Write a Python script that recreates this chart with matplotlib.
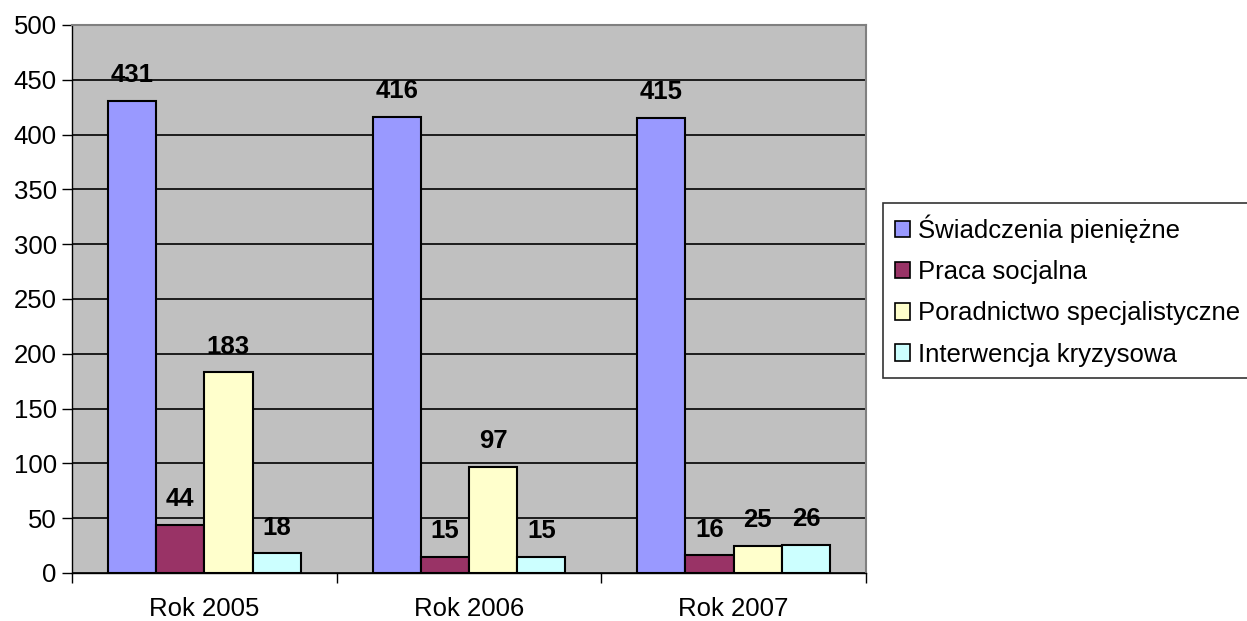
import matplotlib.pyplot as plt
import numpy as np
from matplotlib.patches import Patch

plt.rcParams['font.family'] = ['Liberation Sans', 'DejaVu Sans']

years = ["Rok 2005", "Rok 2006", "Rok 2007"]
series = ["Świadczenia pieniężne", "Praca socjalna",
          "Poradnictwo specjalistyczne", "Interwencja kryzysowa"]
swiadczenia = [431, 416, 415]
praca = [44, 15, 16]
poradnictwo = [183, 97, 25]
interwencja = [18, 15, 26]
values = [swiadczenia, praca, poradnictwo, interwencja]
colors = ["#9999FF", "#993366", "#FFFFCC", "#CCFFFF"]

fs = 18.5

fig = plt.figure(figsize=(12.47, 6.21), dpi=100)
ax = fig.add_axes([72 / 1247, 48 / 621, 794 / 1247, 548 / 621])
ax.set_facecolor("#C0C0C0")

x = np.arange(len(years))
w = 0.182
for i, (vals, c) in enumerate(zip(values, colors)):
    pos = x + (i - 1.5) * w
    ax.bar(pos, vals, w, color=c, edgecolor="black", linewidth=1.5, zorder=3)
    for p, v in zip(pos, vals):
        ax.annotate(str(v), (p, v), xytext=(0, 18.5), textcoords="offset points",
                    ha="center", va="center", fontsize=fs, fontweight="bold")

ax.set_xlim(-0.5, 2.5)
ax.set_ylim(0, 500)
ax.set_yticks(range(0, 501, 50))
ax.yaxis.grid(True, color="black", linewidth=1.2, zorder=0)
ax.set_axisbelow(True)

ax.set_xticks(x)
ax.set_xticklabels(years)
ax.set_xticks([-0.5, 0.5, 1.5, 2.5], minor=True)
ax.tick_params(axis="x", which="major", length=0, pad=17, labelsize=fs)
ax.tick_params(axis="x", which="minor", length=7, width=1, direction="out")
ax.tick_params(axis="y", length=7, width=1, direction="out", labelsize=fs, pad=4)

for s in ["top", "right"]:
    ax.spines[s].set_color("#808080")
    ax.spines[s].set_linewidth(1.5)
ax.spines["left"].set_linewidth(1)
ax.spines["bottom"].set_linewidth(1)

handles = [Patch(facecolor=c, edgecolor="black", linewidth=1.2) for c in colors]
leg = fig.legend(handles, series, loc="upper left", bbox_to_anchor=(883 / 1247, 1 - 203 / 621),
                 fontsize=18.5, frameon=True, fancybox=False, edgecolor="black",
                 handlelength=0.6, handleheight=0.6, handletextpad=0.32,
                 labelspacing=0.67, borderpad=0.45, borderaxespad=0)
leg.get_frame().set_linewidth(1.2)

fig.savefig("out.png", dpi=100)
